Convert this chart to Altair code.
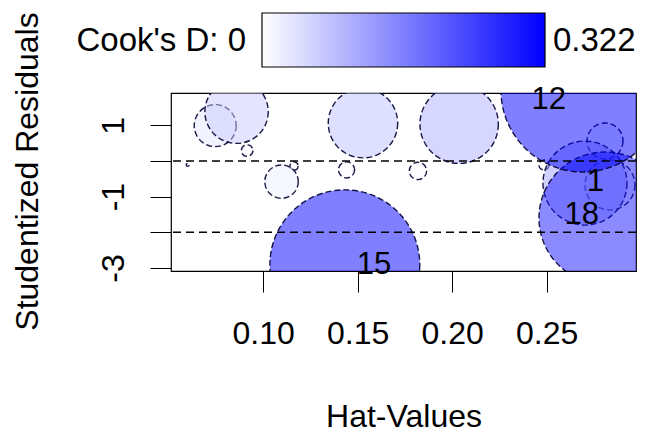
import altair as alt
import pandas as pd

# ---- data ----
hat = [0.0600, 0.0746, 0.0859, 0.0915, 0.1097, 0.1163, 0.1528, 0.1441, 0.2037,
       0.1819, 0.2486, 0.2692, 0.1432, 0.2809, 0.2809, 0.2703, 0.2835]
rstud = [-0.11, 0.99, 1.38, 0.29, -0.58, -0.14, 1.06, -0.25, 1.03,
         -0.28, -0.11, 1.99, -2.91, -1.60, 0.56, -0.62, -0.67]
cooks = [0.0001, 0.0211, 0.0481, 0.0016, 0.0134, 0.0008, 0.0577, 0.0031, 0.0736,
         0.0036, 0.0012, 0.322, 0.269, 0.209, 0.0155, 0.0845, 0.030]
labels = ["", "", "", "", "", "", "", "", "",
          "", "", "12", "15", "18", "", "", "1"]
ref_lines = [0, -2]
x_ticks = [0.10, 0.15, 0.20, 0.25]
y_ticks = [-3, -2, -1, 0, 1]
cook_min, cook_max = 0, 0.322
color_sat = 0.23          # fill colour saturates here (as in the reference)
x_domain = [0.0512, 0.2973]
y_domain = [-3.084, 1.905]

df = pd.DataFrame({"hat": hat, "rstud": rstud, "cook": cooks, "label": labels})
rule_df = pd.DataFrame({"y": ref_lines})
legend_df = pd.DataFrame({"lo": [f"Cook's D: {cook_min}"], "hi": [f"{cook_max}"]})

FONT = "Liberation Sans"
W, H = 465, 178
# Vega circle symbols: radius = sqrt(size)/2  ->  size = 4 r^2
max_area = 4 * 82 ** 2

xenc = alt.X("hat:Q", scale=alt.Scale(domain=x_domain, nice=False, zero=False),
             axis=alt.Axis(values=x_ticks, format=".2f", title="Hat-Values", grid=False,
                           domain=False, tickSize=21, tickColor="black", tickWidth=1,
                           labelFontSize=32, labelFont=FONT, labelColor="black",
                           labelPadding=26, labelOverlap=False, labelFlush=False,
                           titleFontSize=32, titleFont=FONT, titleColor="black",
                           titleFontWeight="normal", titleY=145, titleX=W / 2,
                           titleBaseline="middle", titleAlign="center"))
yenc = alt.Y("rstud:Q", scale=alt.Scale(domain=y_domain, nice=False, zero=False),
             axis=alt.Axis(values=y_ticks, title="Studentized Residuals", grid=False,
                           domain=False, tickSize=21, tickColor="black", tickWidth=1,
                           labelExpr="datum.value % 2 == 0 ? '' : '' + datum.value",
                           labelAngle=270, labelAlign="center", labelBaseline="bottom",
                           labelFontSize=32, labelFont=FONT, labelColor="black",
                           labelPadding=20, labelOverlap=False, labelFlush=False,
                           titleFontSize=32, titleFont=FONT, titleColor="black",
                           titleFontWeight="normal", titleAngle=270, titleX=-144,
                           titleY=78, titleBaseline="middle", titleAlign="center"))

circles = alt.Chart(df).mark_point(
    shape="circle", filled=True, fillOpacity=0.5, stroke="#000033", strokeWidth=1.4,
    strokeDash=[6, 3], strokeOpacity=0.9, clip=True
).encode(
    x=xenc, y=yenc,
    size=alt.Size("cook:Q", scale=alt.Scale(type="linear", domain=[0, cook_max],
                                            range=[0, max_area], zero=True), legend=None),
    fill=alt.Fill("cook:Q", scale=alt.Scale(domain=[cook_min, color_sat], clamp=True,
                                            range=["#ffffff", "#0000ff"],
                                            interpolate="rgb"), legend=None),
    order=alt.Order("cook:Q", sort="ascending"),
)

rules = alt.Chart(rule_df).mark_rule(color="black", strokeDash=[8, 5],
                                     strokeWidth=1.4).encode(y=alt.Y("y:Q"))

text_style = dict(font=FONT, fontSize=31, color="black", baseline="middle")
lab_right = alt.Chart(df).transform_filter("datum.label == '15'").mark_text(
    align="left", dx=12, **text_style).encode(x="hat:Q", y="rstud:Q", text="label:N")
lab_left = alt.Chart(df).transform_filter(
    "datum.label == '18' || datum.label == '1'").mark_text(
    align="right", dx=-6, dy=-3, **text_style).encode(x="hat:Q", y="rstud:Q", text="label:N")
lab_12 = alt.Chart(df).transform_filter("datum.label == '12'").mark_text(
    align="right", dx=-17, dy=10, **text_style).encode(x="hat:Q", y="rstud:Q", text="label:N")

grad = alt.Chart(legend_df).mark_rect(
    fill=alt.Gradient(gradient="linear",
                      stops=[alt.GradientStop(color="white", offset=0),
                             alt.GradientStop(color="blue", offset=1)],
                      x1=0, x2=1, y1=0, y2=0),
    stroke="black", strokeWidth=1.2
).encode(x=alt.value(91), x2=alt.value(374), y=alt.value(-80), y2=alt.value(-26))

leg_lo = alt.Chart(legend_df).mark_text(
    align="right", baseline="middle", font=FONT, fontSize=33, color="black"
).encode(x=alt.value(75), y=alt.value(-52), text="lo:N")
leg_hi = alt.Chart(legend_df).mark_text(
    align="left", baseline="middle", font=FONT, fontSize=33, color="black"
).encode(x=alt.value(382), y=alt.value(-52), text="hi:N")

chart = alt.layer(circles, rules, lab_right, lab_left, lab_12, grad, leg_lo, leg_hi).properties(
    width=W, height=H,
    autosize=alt.AutoSizeParams(type="none"),
    padding={"left": 171, "top": 93, "right": 20, "bottom": 162},
    background="white",
).configure_view(stroke="black", strokeWidth=1.2)

chart.save("out.html", embed_options={"renderer": "svg", "actions": False})
